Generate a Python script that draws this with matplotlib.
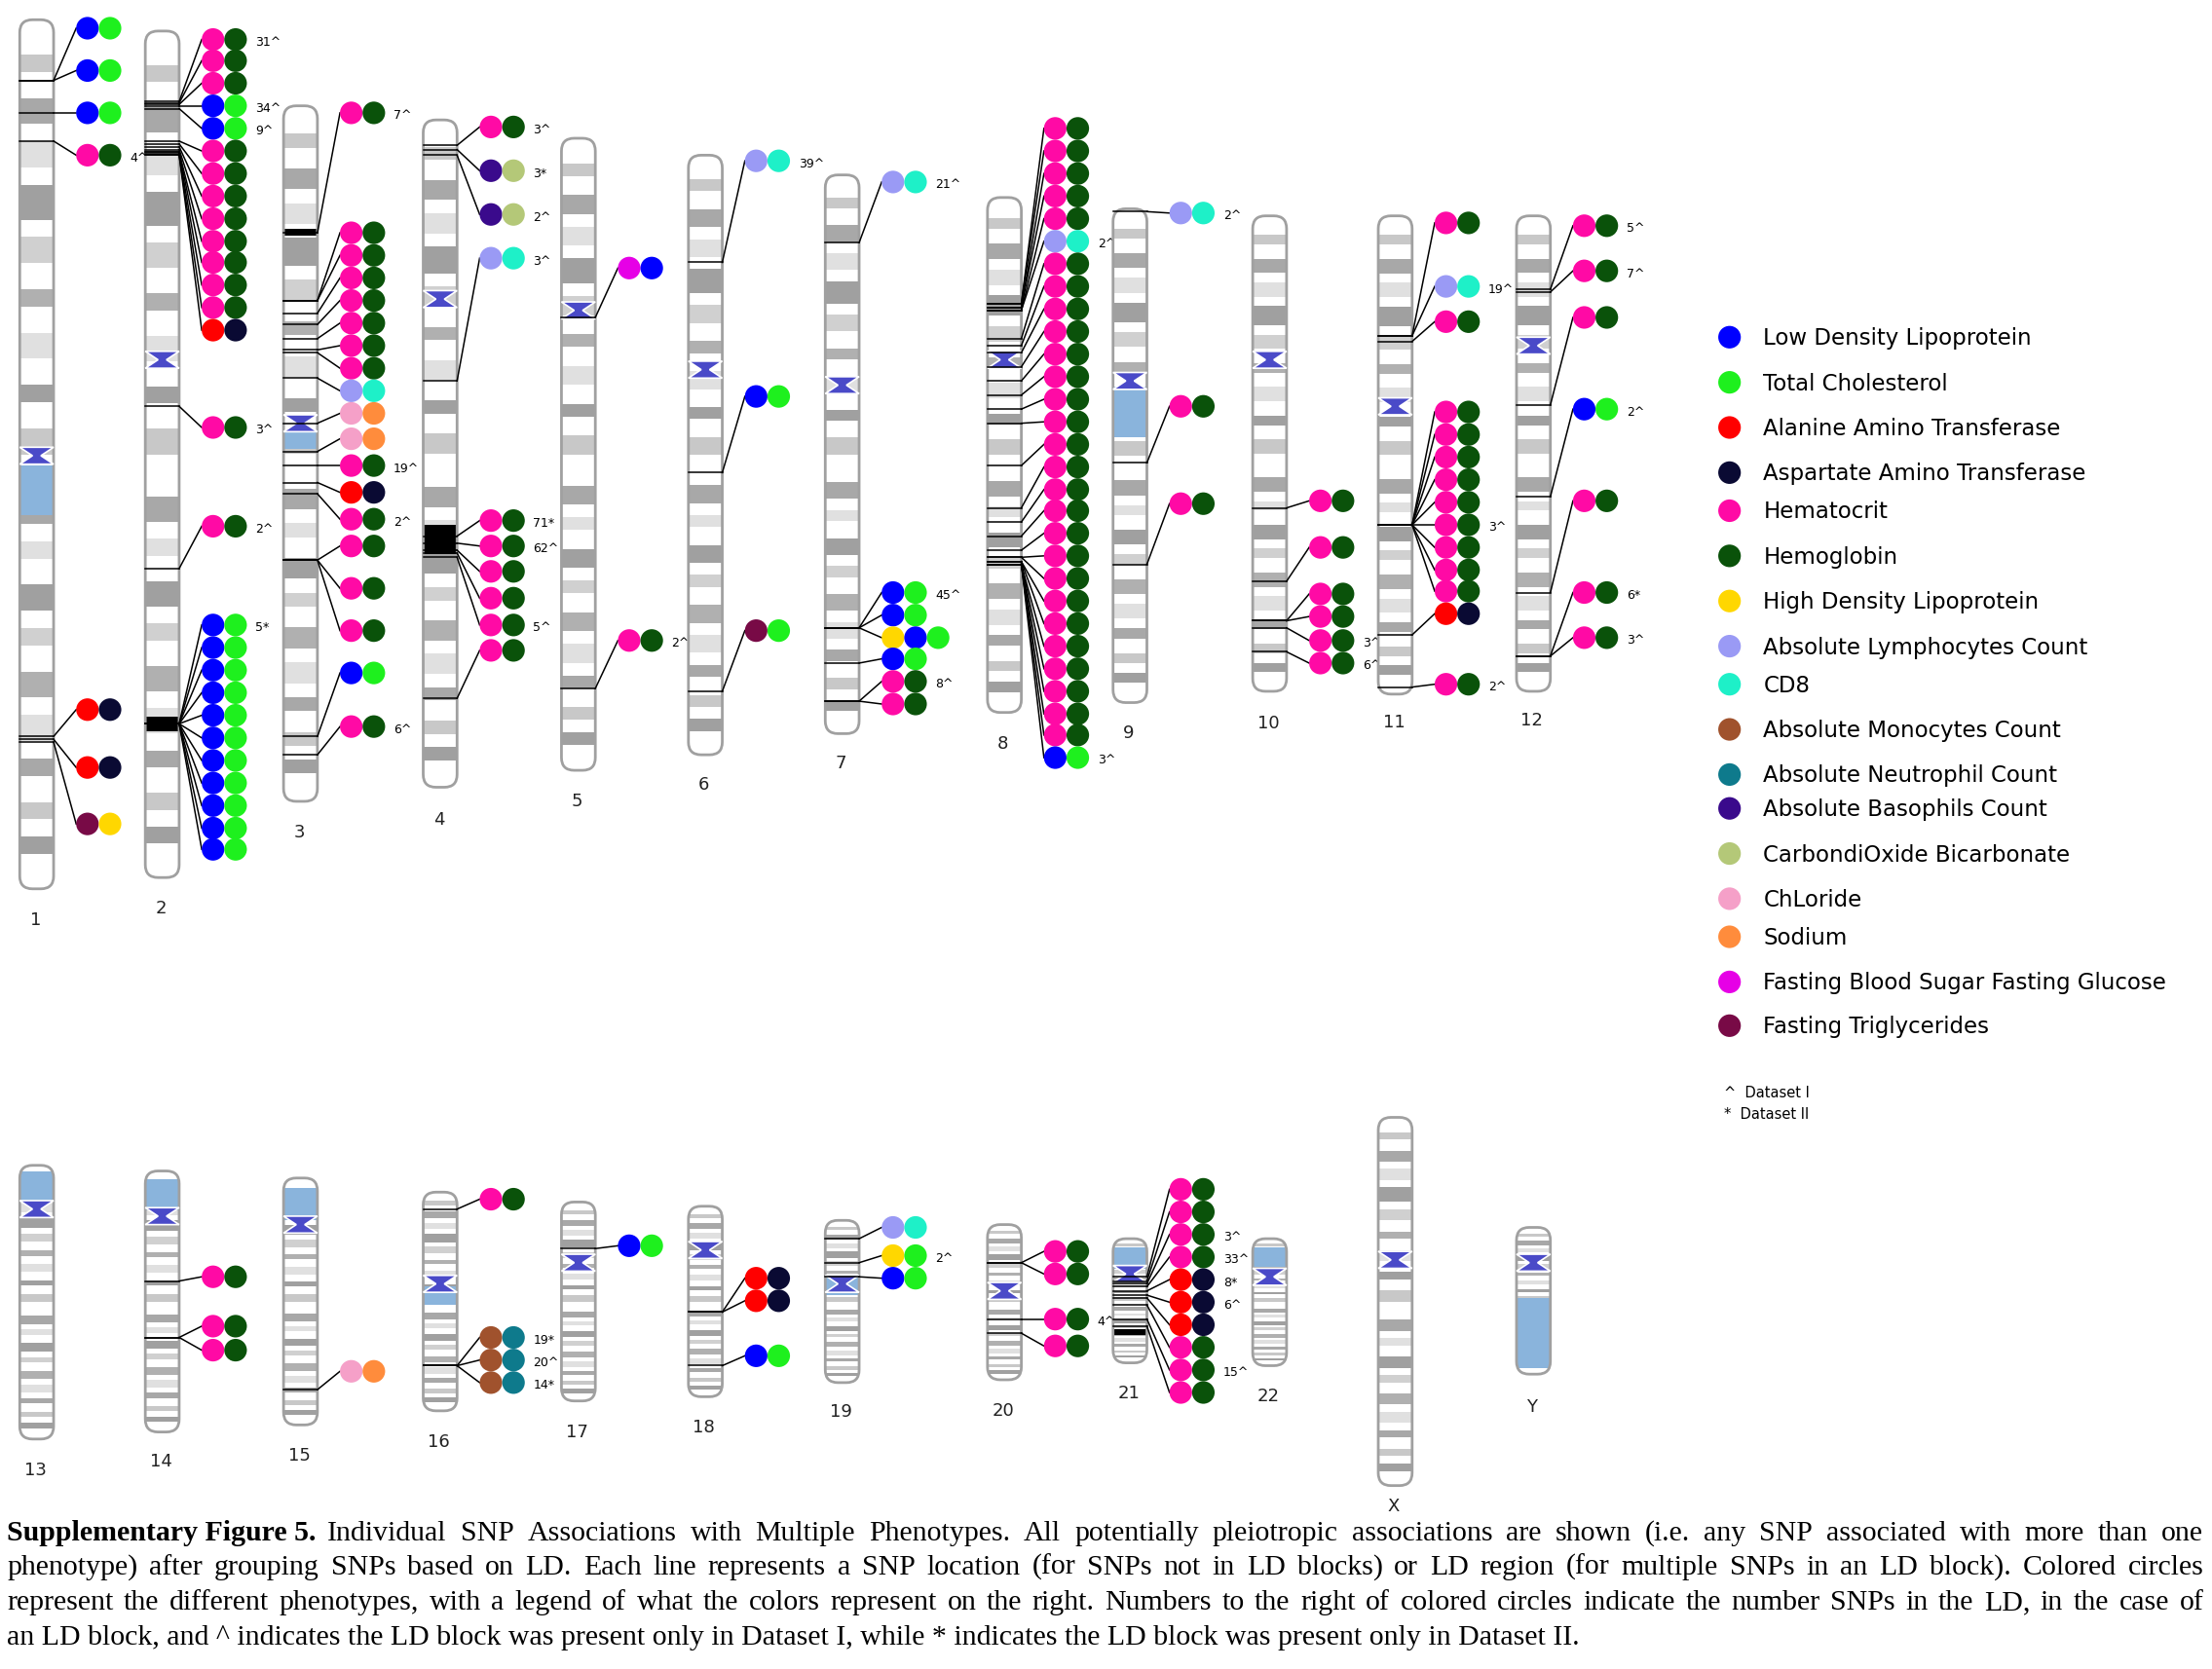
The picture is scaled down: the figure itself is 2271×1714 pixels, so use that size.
import matplotlib.pyplot as plt
from matplotlib.patches import Circle, FancyBboxPatch, Rectangle, Polygon

# phenotype colours and legend order
pheno_keys = ["LDL", "TC", "ALT", "AST", "HCT", "HGB", "HDL", "ALC", "CD8", "AMC",
              "ANC", "ABC", "CO2", "CL", "NA", "FBS", "TG"]
pheno_names = ["Low Density Lipoprotein", "Total Cholesterol", "Alanine Amino Transferase",
               "Aspartate Amino Transferase", "Hematocrit", "Hemoglobin",
               "High Density Lipoprotein", "Absolute Lymphocytes Count", "CD8",
               "Absolute Monocytes Count", "Absolute Neutrophil Count",
               "Absolute Basophils Count", "CarbondiOxide Bicarbonate", "ChLoride",
               "Sodium", "Fasting Blood Sugar Fasting Glucose", "Fasting Triglycerides"]
pheno_colors = ["#0000ff", "#1ef01e", "#ff0000", "#0a0a33", "#ff0aa5", "#0a520a",
                "#ffd700", "#9a9af5", "#1ef0c8", "#a0522d", "#0e7a8c", "#3a0a8c",
                "#b4c878", "#f5a0c8", "#ff8c3c", "#e600e6", "#780a46"]
legend_y = [239, 271, 303, 335, 362, 394, 426, 458, 485, 517, 549, 573, 605, 637, 664, 696, 727]
color = dict(zip(pheno_keys, pheno_colors))

# chromosomes: name, x centre, top, bottom, centromere, label y
chrom_names = ["1", "2", "3", "4", "5", "6", "7", "8", "9", "10", "11", "12",
               "13", "14", "15", "16", "17", "18", "19", "20", "21", "22", "X", "Y"]
chrom_x = [26, 115, 213, 312, 410, 500, 597, 712, 801, 900, 989, 1087,
           26, 115, 213, 312, 410, 500, 597, 712, 801, 900, 989, 1087]
chrom_top = [14, 22, 75, 85, 98, 110, 124, 140, 148, 153, 153, 153,
             826, 830, 835, 845, 852, 855, 865, 868, 878, 878, 792, 870]
chrom_bottom = [630, 622, 568, 558, 546, 535, 520, 505, 498, 490, 492, 490,
                1020, 1015, 1010, 1000, 993, 990, 980, 978, 966, 968, 1053, 974]
chrom_cen = [323, 255, 300, 212, 220, 262, 273, 255, 270, 255, 288, 245,
             857, 862, 868, 910, 895, 886, 910, 915, 903, 905, 893, 895]
chrom_label_y = [652, 644, 590, 581, 568, 556, 541, 527, 520, 513, 512, 511,
                 1042, 1036, 1032, 1022, 1015, 1012, 1001, 1000, 988, 990, 1068, 997]

# light-blue (stalk / heterochromatin) regions and black bands
blue_regions = [("1", 330, 365), ("3", 305, 318), ("9", 274, 310), ("13", 830, 852),
                ("14", 836, 858), ("15", 842, 865), ("16", 912, 925), ("19", 904, 918),
                ("21", 884, 899), ("22", 884, 898), ("Y", 920, 970)]
black_bands = [("2", 508, 518), ("3", 162, 167), ("4", 372, 393), ("21", 942, 946)]
# generic grey banding pattern (fraction of length, shade)
band_start = [0.04, 0.09, 0.14, 0.19, 0.25, 0.31, 0.36, 0.42, 0.47, 0.55, 0.60,
              0.65, 0.70, 0.75, 0.80, 0.85, 0.90, 0.94]
band_end = [0.06, 0.12, 0.17, 0.23, 0.28, 0.33, 0.39, 0.44, 0.50, 0.58, 0.62,
            0.68, 0.72, 0.78, 0.83, 0.87, 0.92, 0.96]
band_shade = ["#c8c8c8", "#a8a8a8", "#e0e0e0", "#a0a0a0", "#d0d0d0", "#b0b0b0",
              "#e0e0e0", "#a0a0a0", "#c8c8c8", "#a8a8a8", "#e0e0e0", "#a0a0a0",
              "#d0d0d0", "#b0b0b0", "#e0e0e0", "#a8a8a8", "#c8c8c8", "#a0a0a0"]

# associations: chromosome, position on chromosome, circle row y, phenotypes, label
H = ["HCT", "HGB"]
LT = ["LDL", "TC"]
assoc = [
    ("1", 57, 20, LT, ""), ("1", 57, 50, LT, ""), ("1", 80, 80, LT, ""), ("1", 100, 110, H, "4^"),
    ("1", 522, 503, ["ALT", "AST"], ""), ("1", 524, 544, ["ALT", "AST"], ""), ("1", 526, 584, ["TG", "HDL"], ""),
    ("2", 72, 28, H, "31^"), ("2", 73, 43, H, ""), ("2", 74, 59, H, ""), ("2", 75, 75, LT, "34^"),
    ("2", 77, 91, LT, "9^"), ("2", 100, 107, H, ""), ("2", 102, 123, H, ""), ("2", 104, 139, H, ""),
    ("2", 106, 155, H, ""), ("2", 108, 171, H, ""), ("2", 108, 186, H, ""), ("2", 109, 202, H, ""),
    ("2", 110, 218, H, ""), ("2", 110, 234, ["ALT", "AST"], ""),
    ("2", 288, 303, H, "3^"), ("2", 403, 373, H, "2^"),
    ("2", 513, 443, LT, "5*"), ("2", 513, 459, LT, ""), ("2", 513, 475, LT, ""), ("2", 513, 491, LT, ""),
    ("2", 513, 507, LT, ""), ("2", 513, 523, LT, ""), ("2", 513, 539, LT, ""), ("2", 513, 555, LT, ""),
    ("2", 513, 571, LT, ""), ("2", 513, 587, LT, ""), ("2", 513, 602, LT, ""),
    ("3", 165, 80, H, "7^"), ("3", 213, 165, H, ""), ("3", 213, 181, H, ""), ("3", 222, 197, H, ""),
    ("3", 230, 213, H, ""), ("3", 240, 229, H, ""), ("3", 248, 245, H, ""), ("3", 250, 261, H, ""),
    ("3", 268, 277, ["ALC", "CD8"], ""), ("3", 300, 293, ["CL", "NA"], ""), ("3", 320, 311, ["CL", "NA"], ""),
    ("3", 330, 330, H, "19^"), ("3", 342, 349, ["ALT", "AST"], ""), ("3", 350, 368, H, "2^"),
    ("3", 397, 387, H, ""), ("3", 397, 417, H, ""), ("3", 397, 447, H, ""),
    ("3", 522, 477, LT, ""), ("3", 535, 515, H, "6^"),
    ("4", 103, 90, H, "3^"), ("4", 106, 121, ["ABC", "CO2"], "3*"), ("4", 110, 152, ["ABC", "CO2"], "2^"),
    ("4", 270, 183, ["ALC", "CD8"], "3^"),
    ("4", 380, 369, H, "71*"), ("4", 385, 387, H, "62^"), ("4", 390, 405, H, ""),
    ("4", 392, 424, H, ""), ("4", 395, 443, H, "5^"), ("4", 495, 461, H, ""),
    ("5", 225, 190, ["FBS", "LDL"], ""), ("5", 488, 454, H, "2^"),
    ("6", 186, 114, ["ALC", "CD8"], "39^"), ("6", 335, 281, LT, ""), ("6", 490, 447, ["TG", "TC"], ""),
    ("7", 172, 129, ["ALC", "CD8"], "21^"), ("7", 445, 420, LT, "45^"), ("7", 445, 436, LT, ""),
    ("7", 445, 452, ["HDL", "LDL", "TC"], ""), ("7", 470, 467, LT, ""), ("7", 497, 483, H, "8^"),
    ("7", 497, 499, H, ""),
    ("9", 150, 151, ["ALC", "CD8"], "2^"), ("9", 328, 288, H, ""), ("9", 400, 357, H, ""),
    ("10", 360, 355, H, ""), ("10", 412, 388, H, ""), ("10", 440, 421, H, ""), ("10", 440, 437, H, ""),
    ("10", 445, 454, H, "3^"), ("10", 462, 470, H, "6^"),
    ("11", 238, 158, H, ""), ("11", 238, 203, ["ALC", "CD8"], "19^"), ("11", 242, 228, H, ""),
    ("11", 372, 292, H, ""), ("11", 372, 308, H, ""), ("11", 372, 324, H, ""), ("11", 372, 340, H, ""),
    ("11", 372, 356, H, ""), ("11", 372, 372, H, "3^"), ("11", 372, 388, H, ""), ("11", 372, 404, H, ""),
    ("11", 372, 419, H, ""), ("11", 450, 435, ["ALT", "AST"], ""), ("11", 487, 485, H, "2^"),
    ("12", 205, 160, H, "5^"), ("12", 207, 192, H, "7^"), ("12", 287, 225, H, ""),
    ("12", 352, 290, LT, "2^"), ("12", 420, 355, H, ""), ("12", 465, 420, H, "6*"), ("12", 465, 452, H, "3^"),
    ("14", 908, 905, H, ""), ("14", 948, 940, H, ""), ("14", 948, 957, H, ""),
    ("15", 985, 972, ["CL", "NA"], ""),
    ("16", 857, 850, H, ""), ("16", 968, 948, ["AMC", "ANC"], "19*"), ("16", 968, 964, ["AMC", "ANC"], "20^"),
    ("16", 968, 980, ["AMC", "ANC"], "14*"),
    ("17", 885, 883, LT, ""),
    ("18", 930, 906, ["ALT", "AST"], ""), ("18", 930, 922, ["ALT", "AST"], ""), ("18", 968, 961, LT, ""),
    ("19", 878, 870, ["ALC", "CD8"], ""), ("19", 895, 890, ["HDL", "TC"], "2^"), ("19", 905, 906, LT, ""),
    ("20", 895, 887, H, ""), ("20", 895, 903, H, ""), ("20", 935, 935, H, "4^"), ("20", 945, 954, H, ""),
    ("21", 905, 843, H, ""), ("21", 908, 859, H, ""), ("21", 910, 875, H, "3^"), ("21", 912, 891, H, "33^"),
    ("21", 915, 907, ["ALT", "AST"], "8*"), ("21", 918, 923, ["ALT", "AST"], "6^"),
    ("21", 920, 939, ["ALT", "AST"], ""), ("21", 925, 955, H, ""), ("21", 935, 971, H, "15^"),
    ("21", 940, 987, H, ""),
]
# chromosome 8: one long column of hematocrit/hemoglobin rows
chr8_rows = [91, 107, 123, 139, 155, 171, 187, 203, 219, 235, 251, 267, 283, 299, 315, 331,
             347, 362, 378, 394, 410, 426, 442, 458, 474, 490, 506, 521, 537]
chr8_pos = [215, 215, 218, 218, 220, 220, 240, 245, 250, 260, 270, 280, 290, 300, 330, 360,
            370, 380, 390, 395, 395, 398, 398, 400, 400, 400, 400, 400, 400]
for p, r in zip(chr8_pos, chr8_rows):
    if r == 171:
        assoc.append(("8", p, r, ["ALC", "CD8"], "2^"))
    elif r == 537:
        assoc.append(("8", p, r, LT, "3^"))
    else:
        assoc.append(("8", p, r, H, ""))

plt.rcParams["font.family"] = "DejaVu Sans"
fig = plt.figure(figsize=(22.71, 17.14), dpi=100)
ax = fig.add_axes([0, 0, 1, 1])
ax.set_xlim(0, 1568)
ax.set_ylim(1183, 0)
ax.axis("off")

W = 24  # chromosome width
for i, name in enumerate(chrom_names):
    x, top, bot, cen = chrom_x[i], chrom_top[i], chrom_bottom[i], chrom_cen[i]
    body = FancyBboxPatch((x - W / 2, top), W, bot - top, boxstyle="round,pad=0,rounding_size=9",
                          facecolor="white", edgecolor="none", zorder=1)
    ax.add_patch(body)
    L = bot - top
    for s, e, c in zip(band_start, band_end, band_shade):
        band = Rectangle((x - W / 2, top + s * L), W, (e - s) * L, facecolor=c, edgecolor="none", zorder=2)
        band.set_clip_path(body)
        ax.add_patch(band)
    for n, a, b in blue_regions:
        if n == name:
            r = Rectangle((x - W / 2, a), W, b - a, facecolor="#8ab4dc", edgecolor="none", zorder=3)
            r.set_clip_path(body)
            ax.add_patch(r)
    for n, a, b in black_bands:
        if n == name:
            r = Rectangle((x - W / 2, a), W, b - a, facecolor="black", edgecolor="none", zorder=3)
            r.set_clip_path(body)
            ax.add_patch(r)
    ax.add_patch(FancyBboxPatch((x - W / 2, top), W, bot - top, boxstyle="round,pad=0,rounding_size=9",
                                facecolor="none", edgecolor="#a0a0a0", linewidth=2, zorder=4))
    # centromere
    ax.add_patch(Polygon([(x - W / 2, cen - 6), (x + W / 2, cen - 6), (x + 3, cen), (x + W / 2, cen + 6),
                          (x - W / 2, cen + 6), (x - 3, cen)], closed=True, facecolor="#4a4ac8",
                         edgecolor="white", linewidth=1.2, zorder=5))
    ax.text(x - 1, chrom_label_y[i], name, fontsize=13, ha="center", va="center", color="#222222")

for name, pos, row, phen, label in assoc:
    i = chrom_names.index(name)
    x = chrom_x[i]
    cx = x + 36
    ax.plot([x - W / 2, x + W / 2], [pos, pos], color="black", linewidth=1.1, zorder=6)
    ax.plot([x + W / 2, cx - 8], [pos, row], color="black", linewidth=1.1, zorder=6)
    for k, p in enumerate(phen):
        ax.add_patch(Circle((cx + 16 * k, row), 8, facecolor=color[p], edgecolor="none", zorder=7))
    if label:
        ax.text(cx + 16 * (len(phen) - 1) + 14, row + 2, label, fontsize=9, ha="left", va="center")

# legend
for c, n, y in zip(pheno_colors, pheno_names, legend_y):
    ax.add_patch(Circle((1226, y), 8, facecolor=c, edgecolor="none"))
    ax.text(1250, y + 1, n, fontsize=16.5, ha="left", va="center")
ax.text(1222, 775, "^  Dataset I", fontsize=10.5, ha="left", va="center")
ax.text(1222, 790, "*  Dataset II", fontsize=10.5, ha="left", va="center")

# caption, justified between x=5 and x=1562 except the last line
cap_lines = [
    "Individual SNP Associations with Multiple Phenotypes.  All potentially pleiotropic associations are shown (i.e. any SNP associated with more than one",
    "phenotype) after grouping SNPs based on LD. Each line represents a SNP location (for SNPs not in LD blocks) or LD region (for multiple SNPs in an LD block). Colored circles",
    "represent the different phenotypes, with a legend of what the colors represent on the right. Numbers to the right of colored circles indicate the number SNPs in the LD, in the case of",
    "an LD block, and ^ indicates the LD block was present only in Dataset I, while * indicates the LD block was present only in Dataset II."]
cap_y = [1087, 1111, 1136, 1161]
serif = "Liberation Serif"
fs = 21.5
fig.canvas.draw()
renderer = fig.canvas.get_renderer()
inv = ax.transData.inverted()


def width_of(artist):
    bb = artist.get_window_extent(renderer).transformed(inv)
    return bb.x1 - bb.x0


t = ax.text(5, cap_y[0], "Supplementary Figure 5.", fontsize=fs, fontweight="bold", family=serif, va="center")
start = [5 + width_of(t) + 8, 5, 5, 5]
for k, line in enumerate(cap_lines):
    words = line.split()
    if k == len(cap_lines) - 1:
        ax.text(5, cap_y[k], line, fontsize=fs, family=serif, va="center")
        continue
    arts = [ax.text(0, cap_y[k], w, fontsize=fs, family=serif, va="center") for w in words]
    widths = [width_of(a) for a in arts]
    gap = (1562 - start[k] - sum(widths)) / (len(words) - 1)
    xpos = start[k]
    for a, w in zip(arts, widths):
        a.set_x(xpos)
        xpos += w + gap

fig.savefig("out.png", dpi=100)
